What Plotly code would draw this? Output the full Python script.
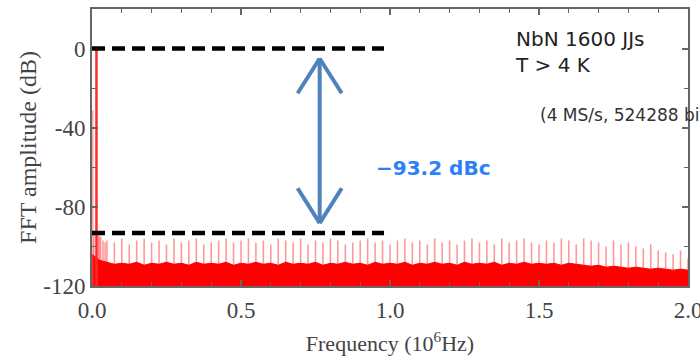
import plotly.graph_objects as go

# ---------------- data ----------------
# spur tones across the band, frequency in 10^6 Hz, level in dB
spur_freq = [round(0.025 * (k + 1), 4) for k in range(80)]
spur_db = [
    -95, -97, -98, -96, -99, -97, -96, -98, -97, -99, -96, -98, -97, -96, -99, -98, -97, -96, -98, -97,
    -96, -98, -97, -99, -96, -97, -98, -96, -99, -97, -98, -96, -97, -99, -98, -97, -96, -98, -97, -99,
    -97, -96, -98, -97, -99, -96, -98, -97, -99, -97, -96, -98, -97, -99, -96, -98, -97, -96, -98, -99,
    -97, -98, -96, -97, -99, -96, -97, -98, -100, -97, -99, -98, -100, -101, -99, -102, -103, -104, -102, -106,
]
# tones close to the carrier
near_freq = [0.006, 0.021, 0.029, 0.037, 0.044]
near_db = [-92, -93, -95, -97, -98]

# noise floor envelope
floor_freq = [round(0.025 * k, 4) for k in range(81)]
floor_db = [
    -104, -107, -108, -109, -108.5, -109, -108, -109.5, -108.5, -109, -108, -109, -108.5, -109.5, -108, -109,
    -108.5, -109, -108, -109.5, -108.5,
    -109, -108, -109, -108.5, -109.5, -108, -109, -108.5, -109, -108, -109.5, -108.5, -109, -108, -109,
    -108.5, -109.5, -108, -109, -108.5,
    -109, -108, -109.5, -108.5, -109, -108, -109, -108.5, -109.5, -108, -109, -108.5, -109, -108, -109.5,
    -108.5, -109, -108, -109, -108.5,
    -109, -108.5, -109.5, -108.5, -109, -109.5, -110, -109.5, -110.5, -110, -110.5, -111, -110.5, -111,
    -111.5, -111, -111.5, -112, -111.5, -112,
]

fund_freq, fund_db = 0.015, 0.0
dc_freq, dc_db = 0.002, -31.0
sfdr_db = -93.2
y_bottom = -120

x_ticks = [0.0, 0.5, 1.0, 1.5, 2.0]
x_ticklabels = ["0.0", "0.5", "1.0", "1.5", "2.0"]
y_ticks = [-120, -80, -40, 0]
y_ticklabels = ["-120", "-80", "-40", "0"]

# ---------------- figure ----------------
fig = go.Figure()

sx, sy = [], []
for f, d in zip(spur_freq + near_freq, spur_db + near_db):
    sx += [f, f, None]
    sy += [y_bottom, d, None]
fig.add_trace(go.Scatter(x=sx, y=sy, mode="lines",
                         line=dict(color="rgba(255,70,70,0.55)", width=1.6),
                         hoverinfo="skip", showlegend=False))

fig.add_trace(go.Scatter(x=[floor_freq[0], floor_freq[-1]], y=[y_bottom, y_bottom], mode="lines",
                         line=dict(width=0, color="#ff0000"), hoverinfo="skip", showlegend=False))
fig.add_trace(go.Scatter(x=floor_freq, y=floor_db, mode="lines", fill="tonexty",
                         fillcolor="#ff0000", line=dict(color="#ff0000", width=1),
                         showlegend=False))

fig.add_trace(go.Scatter(x=[dc_freq, dc_freq], y=[y_bottom, dc_db], mode="lines",
                         line=dict(color="rgba(255,90,90,0.5)", width=2),
                         hoverinfo="skip", showlegend=False))
fig.add_trace(go.Scatter(x=[fund_freq, fund_freq], y=[y_bottom, fund_db], mode="lines",
                         line=dict(color="#ff2a2a", width=2.5), showlegend=False))

# dashed reference lines
dash_end = 0.98
for lvl in (fund_db, sfdr_db):
    fig.add_shape(type="line", xref="x", yref="y", x0=0, x1=dash_end, y0=lvl, y1=lvl,
                  line=dict(color="black", width=4.5, dash="13px,7px"), layer="above")

# double arrow
ax = 0.764
a_top = fund_db - 5
a_bot = sfdr_db + 5
hw, hl = 0.074, 17.6
acol = "#4f81bd"
fig.add_shape(type="line", xref="x", yref="y", x0=ax, x1=ax, y0=a_top, y1=a_bot,
              line=dict(color=acol, width=4))
for sgn in (-1, 1):
    fig.add_shape(type="line", xref="x", yref="y", x0=ax, y0=a_top, x1=ax + sgn * hw, y1=a_top - hl,
                  line=dict(color=acol, width=4))
    fig.add_shape(type="line", xref="x", yref="y", x0=ax, y0=a_bot, x1=ax + sgn * hw, y1=a_bot + hl,
                  line=dict(color=acol, width=4))

fig.add_annotation(x=0.945, y=-60.5, xref="x", yref="y", xanchor="left", yanchor="middle",
                   text="<b>\u221293.2 dBc</b>", showarrow=False,
                   font=dict(family="DejaVu Sans", size=20, color="#2f80f5"))
fig.add_annotation(x=1.412, y=-1.5, xref="x", yref="y", xanchor="left", yanchor="middle",
                   text="NbN 1600 JJs<br>T &gt; 4 K", showarrow=False, align="left",
                   font=dict(family="DejaVu Sans", size=20, color="#222222"))
fig.add_annotation(x=1.496, y=-33.8, xref="x", yref="y", xanchor="left", yanchor="middle",
                   text="(4 MS/s, 524288 bits)", showarrow=False, align="left",
                   font=dict(family="DejaVu Sans", size=17, color="#333333"))

serif = "Liberation Serif, Times New Roman, serif"
axcol = "#666666"
fig.update_layout(
    width=700, height=359,
    margin=dict(l=92, r=12, t=9, b=73, autoexpand=False),
    paper_bgcolor="white", plot_bgcolor="white",
    showlegend=False,
    xaxis=dict(range=[0, 2], tickvals=x_ticks, ticktext=x_ticklabels, automargin=False,
               ticks="inside", ticklen=6, tickwidth=1.5, tickcolor=axcol,
               minor=dict(dtick=0.1, tick0=0, ticks="inside", ticklen=4, tickwidth=1.2, tickcolor=axcol),
               showline=True, linecolor=axcol, linewidth=2, mirror="ticks",
               showgrid=False, zeroline=False, ticklabelstandoff=2,
               ticklabeloverflow="allow",
               tickfont=dict(family=serif, size=23, color="#444444"),
               title=dict(text="Frequency (10<sup>6</sup>Hz)", standoff=14,
                          font=dict(family=serif, size=22, color="#444444"))),
    yaxis=dict(range=[-120, 20], tickvals=y_ticks, ticktext=y_ticklabels, automargin=False,
               ticks="inside", ticklen=6, tickwidth=1.5, tickcolor=axcol,
               minor=dict(dtick=20, tick0=0, ticks="inside", ticklen=4, tickwidth=1.2, tickcolor=axcol),
               showline=True, linecolor=axcol, linewidth=2, mirror="ticks",
               showgrid=False, zeroline=False,
               tickfont=dict(family=serif, size=23, color="#444444"),
               title=dict(text="FFT amplitude (dB)", standoff=0,
                          font=dict(family=serif, size=24, color="#444444"))),
)

fig.write_html("out.html")
